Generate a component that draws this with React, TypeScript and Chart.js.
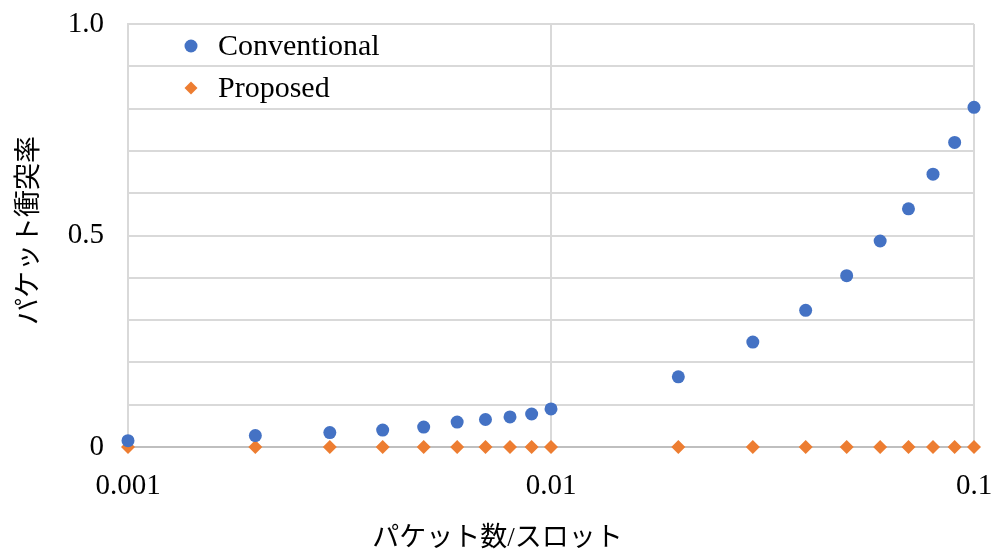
import React, { useEffect, useRef } from "react";
import { Chart, registerables } from "chart.js";

Chart.register(...registerables);

const xValues = [0.001, 0.002, 0.003, 0.004, 0.005, 0.006, 0.007, 0.008, 0.009, 0.01, 0.02, 0.03, 0.04, 0.05, 0.06, 0.07, 0.08, 0.09, 0.1];
const conventional = [0.015, 0.027, 0.034, 0.040, 0.047, 0.059, 0.065, 0.071, 0.078, 0.090, 0.166, 0.248, 0.323, 0.405, 0.487, 0.563, 0.645, 0.72, 0.803];
const proposed = [0, 0, 0, 0, 0, 0, 0, 0, 0, 0, 0, 0, 0, 0, 0, 0, 0, 0, 0];
const xTickValues = [0.001, 0.01, 0.1];
const xTickLabels = ["0.001", "0.01", "0.1"];
const yLabelMap: Record<string, string> = { "0": "0", "0.5": "0.5", "1": "1.0" };
const seriesNames = ["Conventional", "Proposed"];
const xTitle = "パケット数/スロット";
const yTitle = "パケット衝突率";

const SERIF = "'Liberation Serif', 'Noto Sans CJK JP', serif";
const JP = "'Liberation Serif', 'Noto Sans CJK JP', serif";

const overlayPlugin = {
  id: "overlay",
  afterDraw(chart: any) {
    const ctx = chart.ctx;
    const area = chart.chartArea;
    ctx.save();
    // legend
    chart.data.datasets.forEach((ds: any, i: number) => {
      const cx = area.left + 63;
      const cy = area.top + 22 + i * 42;
      ctx.fillStyle = ds.backgroundColor;
      ctx.beginPath();
      if (ds.pointStyle === "rectRot") {
        const r = 6.5;
        ctx.moveTo(cx, cy - r);
        ctx.lineTo(cx + r, cy);
        ctx.lineTo(cx, cy + r);
        ctx.lineTo(cx - r, cy);
        ctx.closePath();
      } else {
        ctx.arc(cx, cy, 6.5, 0, Math.PI * 2);
      }
      ctx.fill();
      ctx.fillStyle = "#000";
      ctx.font = `30px ${SERIF}`;
      ctx.textAlign = "left";
      ctx.textBaseline = "middle";
      ctx.fillText(ds.label, cx + 27, cy + 1);
    });
    // x title
    ctx.font = `27px ${JP}`;
    ctx.textAlign = "center";
    ctx.textBaseline = "middle";
    ctx.fillText(xTitle, chart.width / 2, 539);
    // y title
    ctx.translate(30, (area.top + area.bottom) / 2 - 5);
    ctx.rotate(-Math.PI / 2);
    ctx.fillText(yTitle, 0, 0);
    ctx.restore();
  },
};

export default function App() {
  const ref = useRef<HTMLCanvasElement | null>(null);
  useEffect(() => {
    if (!ref.current) return;
    const chart = new Chart(ref.current, {
      type: "scatter",
      data: {
        datasets: [
          {
            label: seriesNames[0],
            data: xValues.map((x, i) => ({ x, y: conventional[i] })),
            backgroundColor: "#4472C4",
            borderColor: "#4472C4",
            pointStyle: "circle",
            pointRadius: 6.5,
            borderWidth: 0,
            clip: false,
          },
          {
            label: seriesNames[1],
            data: xValues.map((x, i) => ({ x, y: proposed[i] })),
            backgroundColor: "#ED7D31",
            borderColor: "#ED7D31",
            pointStyle: "rectRot",
            pointRadius: 7,
            borderWidth: 0,
            clip: false,
          },
        ],
      },
      options: {
        responsive: false,
        animation: false,
        layout: { padding: { top: 24, right: 21, left: 0, bottom: 0 } },
        plugins: { legend: { display: false }, tooltip: { enabled: false } },
        scales: {
          x: {
            type: "logarithmic",
            min: 0.001,
            max: 0.1,
            afterBuildTicks: (scale: any) => {
              scale.ticks = xTickValues.map((v) => ({ value: v }));
            },
            afterFit: (scale: any) => {
              scale.height = 105;
            },
            ticks: {
              autoSkip: false,
              maxRotation: 0,
              padding: 0,
              color: "#000",
              font: { family: SERIF, size: 29 },
              callback: (v: any) => {
                const idx = xTickValues.findIndex((t) => Math.abs(t - Number(v)) < 1e-9);
                return idx >= 0 ? xTickLabels[idx] : "";
              },
            },
            grid: { color: "#d9d9d9", lineWidth: 2, drawTicks: true, tickLength: 22, tickColor: "rgba(0,0,0,0)" },
            border: { color: "#bfbfbf", width: 2 },
          },
          y: {
            min: 0,
            max: 1,
            afterFit: (scale: any) => {
              scale.width = 128;
            },
            ticks: {
              stepSize: 0.1,
              padding: 0,
              color: "#000",
              font: { family: SERIF, size: 29 },
              callback: (v: any) => {
                const key = String(Math.round(Number(v) * 10) / 10);
                return yLabelMap[key] ?? "";
              },
            },
            grid: { color: "#d9d9d9", lineWidth: 2, drawTicks: true, tickLength: 24, tickColor: "rgba(0,0,0,0)" },
            border: { color: "#d9d9d9", width: 2 },
          },
        },
      },
      plugins: [overlayPlugin],
    } as any);
    return () => chart.destroy();
  }, []);
  return (
    <div style={{ position: "fixed", left: 0, top: 0, width: 995, height: 552, background: "#fff" }}>
      <canvas ref={ref} width={995} height={552} />
    </div>
  );
}
